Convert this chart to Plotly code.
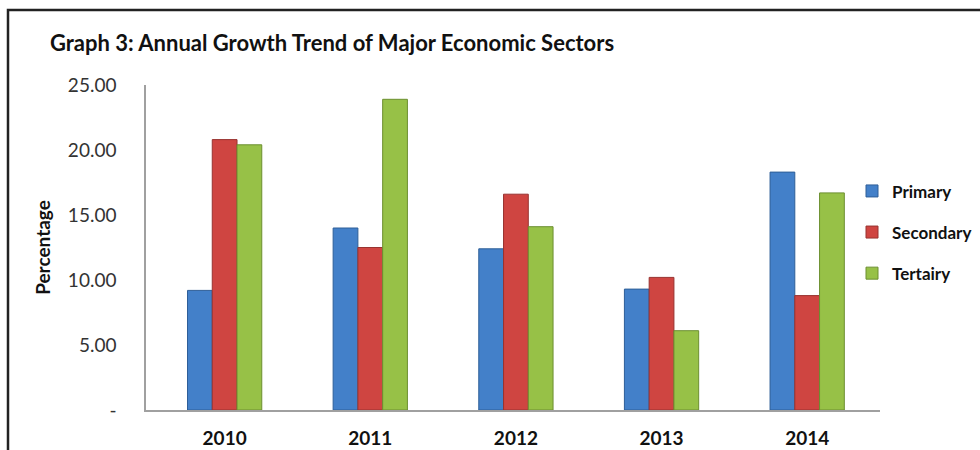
import plotly.graph_objects as go

years = ["2010", "2011", "2012", "2013", "2014"]
primary = [9.2, 14.0, 12.4, 9.3, 18.3]
secondary = [20.8, 12.5, 16.6, 10.2, 8.8]
tertiary = [20.4, 23.9, 14.1, 6.1, 16.7]
series_names = ["Primary", "Secondary", "Tertairy"]
colors = ["#4380C9", "#CF4541", "#97C147"]
edge_colors = ["#2E5E98", "#983330", "#6C8F30"]
tick_vals = [0, 5, 10, 15, 20, 25]
tick_text = ["-", "5.00", "10.00", "15.00", "20.00", "25.00"]

FONT = "Lato, Carlito, 'Liberation Sans', sans-serif"

L, R, T, B = 146, 100, 85, 40
PW = 980 - L - R
PH = 450 - T - B

fig = go.Figure()
for i, (name, vals) in enumerate(zip(series_names, [primary, secondary, tertiary])):
    fig.add_trace(go.Bar(
        x=years, y=vals, name="<b>" + name + "</b>",
        legendgroup=name,
        marker=dict(color=colors[i], line=dict(color=edge_colors[i], width=1)),
    ))

fig.update_layout(
    width=980, height=450,
    margin=dict(l=L, r=R, t=T, b=B, autoexpand=False),
    paper_bgcolor="white", plot_bgcolor="white",
    barmode="group", bargap=0.49, bargroupgap=0.0,
    font=dict(family=FONT, color="#222222"),
    title=dict(text="<b>Graph 3: Annual Growth Trend of Major Economic Sectors</b>",
               x=50 / 980, xanchor="left", y=1 - 43 / 450, yanchor="middle",
               font=dict(size=22, color="#111111", family=FONT)),
    showlegend=True,
    legend=dict(x=(852 - L) / PW, xanchor="left", y=0.728, yanchor="top",
                font=dict(size=17, color="#111111", family=FONT),
                tracegroupgap=16, itemwidth=30, bgcolor="rgba(0,0,0,0)"),
    xaxis=dict(type="category", range=[-0.54, 4.5], showgrid=False,
               automargin=False,
               showline=True, linecolor="#A0A0A0", linewidth=1.5,
               ticks="", tickfont=dict(size=19, color="#111111", family=FONT),
               tickprefix="<b>", ticksuffix="</b>",
               ticklabelstandoff=10),
    yaxis=dict(range=[0, 25], tickvals=tick_vals, ticktext=tick_text,
               automargin=False,
               showgrid=False, zeroline=False, showline=True,
               linecolor="#A0A0A0", linewidth=1.5, ticks="",
               tickfont=dict(size=19, color="#333333", family=FONT),
               ticklabelstandoff=24,
               title=dict(text="<b>Percentage</b>", standoff=12,
                          font=dict(size=19, color="#111111", family=FONT))),
)

# outer border of the chart frame
fig.add_shape(type="rect", xref="paper", yref="paper",
              x0=(8 - L) / PW, x1=(990 - L) / PW,
              y0=(410 - 470) / PH, y1=(410 - 10) / PH,
              line=dict(color="#222222", width=2.5), fillcolor="rgba(0,0,0,0)",
              layer="below")

fig.write_html("out.html")
